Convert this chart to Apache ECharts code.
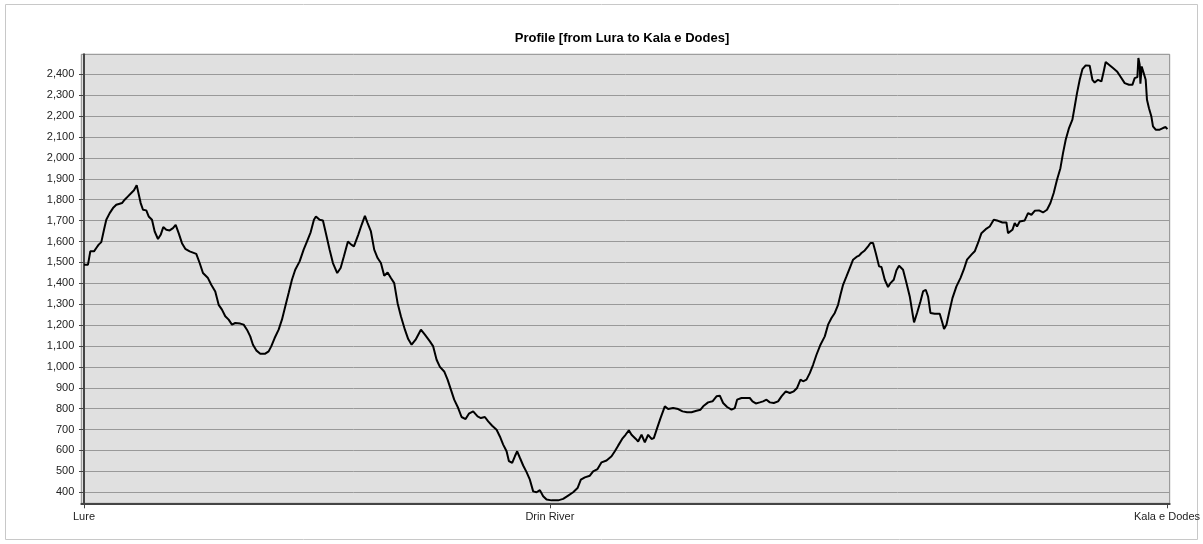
<!DOCTYPE html>
<html>
<head>
<meta charset="utf-8">
<script src="https://cdn.jsdelivr.net/npm/echarts@6/dist/echarts.min.js"></script>
<style>html,body{margin:0;padding:0;background:#fff;}#chart{width:1203px;height:544px;}</style>
</head>
<body>
<div id="chart"></div>
<script>
// Distance along the route (arbitrary units, Lure = 0) and elevation (m)
const dist = [
0,4,6.3,10,12.3,14.7,17.3,20,22.3,25.7,29,32.3,35.7,38,40.7,44,47.3,50,52.7,54,56.7,59,62.3,64.7,68,70.7,74,76.7,79.3,82.3,85.7,89,91.7,94.7,98,101.3,105.7,112.3,115.7,119,124,127.3,131.3,134.7,138,141.3,144.7,148,151.3,156.3,159.7,163,166.3,169,172.3,176.3,181.3,184.7,187.3,190.7,194.7,198,201.3,204.7,208,211.3,215.7,219.7,223,226.7,230,232,235.7,239,242.3,245.7,249,253.3,256.7,260,264,267.3,270,
271,274.3,277.7,281,283.7,287,290.3,293.7,297,300.3,303.7,307,310.3,313.7,317,321,324.3,327.7,331.7,337,341,346,349.3,352.7,356,360.3,363.7,367,370.3,374.3,377.7,381.7,385,389.3,393.7,397,401,404.3,408.3,412.7,416,419.3,422.7,425,428.3,431,433.3,436,439.3,442.7,446,449.3,452.7,456,459.3,462.7,467.7,474.3,479.3,484.3,489.3,493.7,497,501,506,509.3,513.7,517.7,522.7,527.7,531,534.3,538.3,541.7,545,547.7,
552,554.3,557.7,561,564.3,567.7,570,573.3,576.7,581,584.3,589.3,594.3,598.7,603.3,607.7,612.7,616.7,620,624.3,628.7,632.7,636,639.3,643.3,647.7,651,653.3,657.7,662.7,666,668.7,672,676,679.3,682.7,686,690,694.3,697.7,702,706,710,713.3,716.7,719.3,722.7,726,729.3,732.7,736.7,741,744.3,747.7,751,754.3,756.7,759.3,762.7,766,769.3,772.7,775.3,777.7,781,784.3,786.7,789.3,792,795.3,797.7,801,804.3,806.7,810,812.7,815.3,
819.3,822.7,826,828.7,830.3,833.3,836.7,839.3,842,844.3,846.7,851,856,858.7,860.3,862.7,865.3,868.7,872.7,876.7,880,883.3,887.7,891,894.3,897.7,902,906,910,914.3,918.7,922.7,924.3,926,928.7,931,933.3,936,941,944.3,947.7,951,955.3,959.3,963.3,966.7,970,973.3,976.7,979.3,982,985.3,988.7,991,993.3,996,998.7,1002,1006,1008.7,1011,1014.3,1017.7,1020,1022,1025.3,1029.3,1033.3,1036.7,1041,1045.3,1048.7,1051,1053.7,1054.7,1056,1056.7,1058,1060,1062,1063.3,1065.3,1067.7,1069.3,1072,1076,1079.3,1082,1083.7
];
const elev = [
1489,1489,1553,1553,1569,1585,1597,1656,1704,1736,1760,1776,1781,1784,1800,1816,1832,1845,1870,1864,1784,1752,1749,1720,1704,1648,1612,1632,1669,1656,1653,1664,1680,1640,1592,1565,1553,1541,1497,1449,1425,1393,1361,1297,1274,1242,1226,1202,1210,1207,1202,1178,1146,1106,1079,1063,1063,1074,1098,1138,1178,1226,1289,1353,1417,1465,1505,1561,1600,1644,1704,1720,1704,1701,1632,1561,1497,1449,1473,1529,1600,1585,1577,
1585,1632,1680,1723,1688,1648,1561,1521,1497,1436,1452,1425,1401,1305,1242,1178,1133,1106,1130,1178,1154,1122,1098,1034,1000,978,939,891,843,803,760,750,776,787,763,755,760,739,718,699,667,628,596,549,541,572,596,565,528,496,460,404,400,410,381,365,361,361,368,384,400,420,460,471,479,500,511,543,552,572,596,623,655,675,696,675,
655,643,675,639,675,655,659,707,755,811,798,803,798,787,783,783,790,795,814,830,835,859,862,827,808,795,803,843,851,851,851,835,825,830,835,843,830,827,835,859,883,875,883,899,939,931,939,970,1010,1058,1106,1146,1202,1234,1258,1297,1345,1393,1433,1473,1513,1526,1532,1545,1557,1577,1593,1593,1545,1481,1478,1417,1382,1401,1417,1462,1484,
1465,1401,1337,1258,1213,1258,1313,1361,1369,1337,1258,1254,1254,1210,1181,1202,1258,1329,1385,1425,1465,1513,1537,1553,1593,1640,1659,1672,1704,1699,1691,1691,1640,1636,1656,1688,1672,1696,1701,1736,1728,1747,1749,1739,1752,1784,1832,1896,1951,2023,2087,2143,2183,2246,2310,2374,2425,2443,2441,2374,2361,2374,2366,2414,2459,2446,2430,2414,2390,2358,2350,2350,2382,2387,2478,2446,2355,2438,2406,2374,2278,2238,2198,2151,2135,2135,2143,2148,2138
];
// Named places on the distance axis
const placeDist = [0, 466, 1083.3];
const placeNames = ['Lure', 'Drin River', 'Kala e Dodes'];
// Elevation tick labels
const elevTicks = [400,500,600,700,800,900,1000,1100,1200,1300,1400,1500,1600,1700,1800,1900,2000,2100,2200,2300,2400];
const titleText = 'Profile [from Lura to Kala e Dodes]';

const FONT = '"Liberation Sans", Arial, sans-serif';
const chart = echarts.init(document.getElementById('chart'), null, {renderer: 'canvas'});
const pts = dist.map((d, i) => [d, elev[i]]);

chart.setOption({
  animation: false,
  backgroundColor: '#ffffff',
  graphic: [
    {type: 'rect', shape: {x: 5.5, y: 4.5, width: 1192, height: 535}, style: {fill: 'none', stroke: '#c8c8c8', lineWidth: 1}, z: -10, silent: true},
    {type: 'text', x: 622, y: 38, style: {text: titleText, font: 'bold 13px ' + FONT, fill: '#000', align: 'center', verticalAlign: 'middle'}, silent: true}
  ],
  grid: {
    left: 81.3, right: 32.7, top: 54.3, bottom: 40.7,
    show: true, backgroundColor: '#e0e0e0', borderColor: '#8a8a8a', borderWidth: 1
  },
  xAxis: {
    type: 'value', min: -2.7, max: 1086,
    axisLine: {show: true, onZero: false, lineStyle: {color: '#444', width: 2}},
    axisTick: {show: true, length: 5, customValues: placeDist, lineStyle: {color: '#444', width: 1}},
    axisLabel: {
      customValues: placeDist, margin: 8, color: '#222', fontFamily: FONT, fontSize: 11,
      formatter: v => { const i = placeDist.findIndex(p => Math.abs(p - v) < 0.01); return i >= 0 ? placeNames[i] : ''; }
    },
    splitLine: {show: false}
  },
  yAxis: {
    type: 'value', min: 347, max: 2496,
    axisLine: {show: true, lineStyle: {color: '#444', width: 2}},
    axisTick: {show: true, length: 5, customValues: elevTicks, lineStyle: {color: '#444', width: 1}},
    axisLabel: {
      customValues: elevTicks, margin: 7, color: '#222', fontFamily: FONT, fontSize: 11,
      formatter: v => Number(v).toLocaleString('en-US')
    },
    splitLine: {show: true, lineStyle: {color: '#999', width: 1}}
  },
  series: [{
    type: 'line', data: pts, showSymbol: false, symbol: 'none',
    lineStyle: {color: '#000', width: 2}, silent: true
  }]
});
</script>
</body>
</html>
